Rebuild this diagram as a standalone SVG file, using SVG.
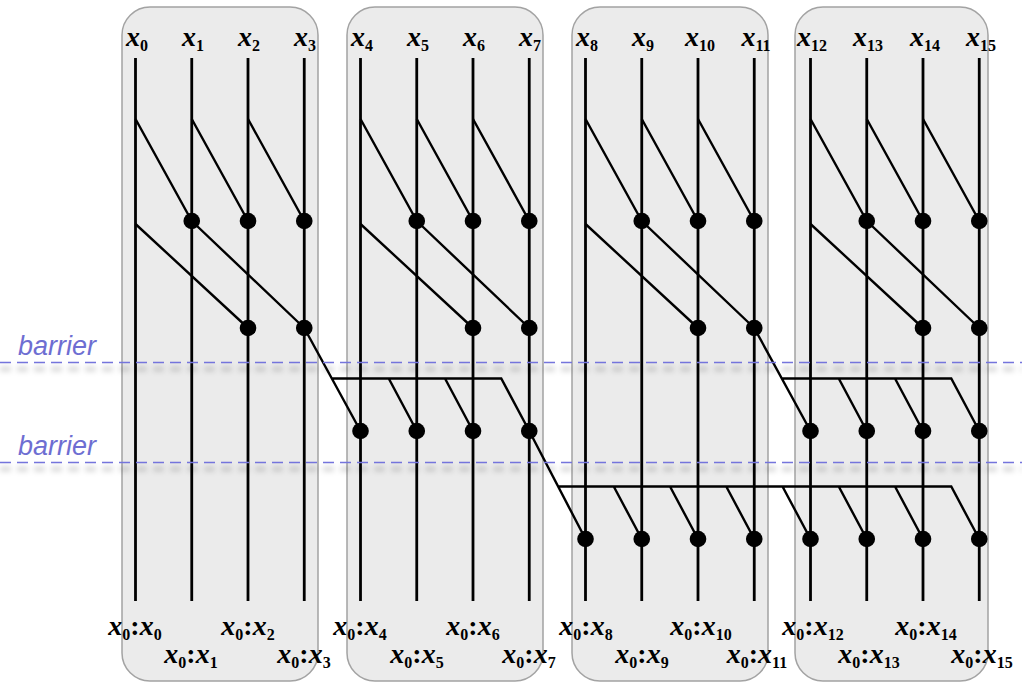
<svg xmlns="http://www.w3.org/2000/svg" width="1022" height="683" viewBox="0 0 1022 683">
<style>
.box{fill:#ebebeb;stroke:#a3a3a3;stroke-width:1.5}
.wire{stroke:#000;stroke-width:2.8;fill:none}
.ln{stroke:#000;stroke-width:2.4;fill:none;stroke-linejoin:miter}
.dot{fill:#000}
.lbl{font-family:"Liberation Serif","Times New Roman",serif;font-weight:bold;font-size:28px;fill:#000;text-anchor:middle}
.v{font-style:italic}
.s{font-size:16px;font-style:normal}
.bar{stroke:#7474dc;stroke-width:1.3;stroke-dasharray:11 6;fill:none}
.sh{stroke:#000;stroke-opacity:0.12;stroke-width:6;stroke-dasharray:11 6;fill:none}
.bt{font-family:"Liberation Sans",Arial,sans-serif;font-style:italic;font-size:27px;fill:#6e6ed2}
</style>
<defs>
<filter id="blur" x="-5%" y="-200%" width="110%" height="500%"><feGaussianBlur stdDeviation="2.5"/></filter>
</defs>
<g id="boxes">
<rect id="box0" class="box" x="122" y="7" width="196" height="674" rx="28"/>
<rect id="box1" class="box" x="347" y="7" width="196" height="674" rx="28"/>
<rect id="box2" class="box" x="572" y="7" width="196" height="674" rx="28"/>
<rect id="box3" class="box" x="795" y="7" width="193" height="674" rx="28"/>
</g>
<g id="shadows" filter="url(#blur)">
<line class="sh" x1="0" y1="369" x2="1022" y2="369"/>
<line class="sh" x1="0" y1="469" x2="1022" y2="469"/>
</g>
<g id="wires">
<line class="wire" x1="135.5" y1="58" x2="135.5" y2="601"/>
<line class="wire" x1="191.75" y1="58" x2="191.75" y2="601"/>
<line class="wire" x1="248" y1="58" x2="248" y2="601"/>
<line class="wire" x1="304.25" y1="58" x2="304.25" y2="601"/>
<line class="wire" x1="360.5" y1="58" x2="360.5" y2="601"/>
<line class="wire" x1="416.75" y1="58" x2="416.75" y2="601"/>
<line class="wire" x1="473" y1="58" x2="473" y2="601"/>
<line class="wire" x1="529.25" y1="58" x2="529.25" y2="601"/>
<line class="wire" x1="585.5" y1="58" x2="585.5" y2="601"/>
<line class="wire" x1="641.75" y1="58" x2="641.75" y2="601"/>
<line class="wire" x1="698" y1="58" x2="698" y2="601"/>
<line class="wire" x1="754.25" y1="58" x2="754.25" y2="601"/>
<line class="wire" x1="810.5" y1="58" x2="810.5" y2="601"/>
<line class="wire" x1="866.75" y1="58" x2="866.75" y2="601"/>
<line class="wire" x1="923" y1="58" x2="923" y2="601"/>
<line class="wire" x1="979.25" y1="58" x2="979.25" y2="601"/>
</g>
<g id="connectors">
<path class="ln" d="M135.5,119L191.75,221M191.75,119L248,221M248,119L304.25,221"/>
<path class="ln" d="M360.5,119L416.75,221M416.75,119L473,221M473,119L529.25,221"/>
<path class="ln" d="M585.5,119L641.75,221M641.75,119L698,221M698,119L754.25,221"/>
<path class="ln" d="M810.5,119L866.75,221M866.75,119L923,221M923,119L979.25,221"/>
<path class="ln" d="M135.5,224L248,328M191.75,221L304.25,328"/>
<path class="ln" d="M360.5,224L473,328M416.75,221L529.25,328"/>
<path class="ln" d="M585.5,224L698,328M641.75,221L754.25,328"/>
<path class="ln" d="M810.5,224L923,328M866.75,221L979.25,328"/>
<path class="ln" d="M304.25,328L360.5,431M331.6,378.5H501.25L529.25,431M388.75,378.5L416.75,431M445,378.5L473,431"/>
<path class="ln" d="M754.25,328L810.5,431M781.6,378.5H951.25L979.25,431M838.75,378.5L866.75,431M895,378.5L923,431"/>
<path class="ln" d="M529.25,431L585.5,539M557.5,486.5H951.25L979.25,539M613.75,486.5L641.75,539M670,486.5L698,539M726.25,486.5L754.25,539M782.5,486.5L810.5,539M838.75,486.5L866.75,539M895,486.5L923,539"/>
</g>
<g id="dots">
<circle class="dot" cx="191.75" cy="221" r="8.3"/><circle class="dot" cx="248" cy="221" r="8.3"/><circle class="dot" cx="304.25" cy="221" r="8.3"/>
<circle class="dot" cx="416.75" cy="221" r="8.3"/><circle class="dot" cx="473" cy="221" r="8.3"/><circle class="dot" cx="529.25" cy="221" r="8.3"/>
<circle class="dot" cx="641.75" cy="221" r="8.3"/><circle class="dot" cx="698" cy="221" r="8.3"/><circle class="dot" cx="754.25" cy="221" r="8.3"/>
<circle class="dot" cx="866.75" cy="221" r="8.3"/><circle class="dot" cx="923" cy="221" r="8.3"/><circle class="dot" cx="979.25" cy="221" r="8.3"/>
<circle class="dot" cx="248" cy="328" r="8.3"/><circle class="dot" cx="304.25" cy="328" r="8.3"/>
<circle class="dot" cx="473" cy="328" r="8.3"/><circle class="dot" cx="529.25" cy="328" r="8.3"/>
<circle class="dot" cx="698" cy="328" r="8.3"/><circle class="dot" cx="754.25" cy="328" r="8.3"/>
<circle class="dot" cx="923" cy="328" r="8.3"/><circle class="dot" cx="979.25" cy="328" r="8.3"/>
<circle class="dot" cx="360.5" cy="431" r="8.3"/><circle class="dot" cx="416.75" cy="431" r="8.3"/><circle class="dot" cx="473" cy="431" r="8.3"/><circle class="dot" cx="529.25" cy="431" r="8.3"/>
<circle class="dot" cx="810.5" cy="431" r="8.3"/><circle class="dot" cx="866.75" cy="431" r="8.3"/><circle class="dot" cx="923" cy="431" r="8.3"/><circle class="dot" cx="979.25" cy="431" r="8.3"/>
<circle class="dot" cx="585.5" cy="539" r="8.3"/><circle class="dot" cx="641.75" cy="539" r="8.3"/><circle class="dot" cx="698" cy="539" r="8.3"/><circle class="dot" cx="754.25" cy="539" r="8.3"/>
<circle class="dot" cx="810.5" cy="539" r="8.3"/><circle class="dot" cx="866.75" cy="539" r="8.3"/><circle class="dot" cx="923" cy="539" r="8.3"/><circle class="dot" cx="979.25" cy="539" r="8.3"/>
</g>
<g id="inputs" class="lbl">
<text x="137" y="46"><tspan class="v">x</tspan><tspan class="s" dy="5">0</tspan></text>
<text x="193" y="46"><tspan class="v">x</tspan><tspan class="s" dy="5">1</tspan></text>
<text x="249" y="46"><tspan class="v">x</tspan><tspan class="s" dy="5">2</tspan></text>
<text x="305" y="46"><tspan class="v">x</tspan><tspan class="s" dy="5">3</tspan></text>
<text x="362" y="46"><tspan class="v">x</tspan><tspan class="s" dy="5">4</tspan></text>
<text x="418" y="46"><tspan class="v">x</tspan><tspan class="s" dy="5">5</tspan></text>
<text x="474" y="46"><tspan class="v">x</tspan><tspan class="s" dy="5">6</tspan></text>
<text x="530" y="46"><tspan class="v">x</tspan><tspan class="s" dy="5">7</tspan></text>
<text x="587" y="46"><tspan class="v">x</tspan><tspan class="s" dy="5">8</tspan></text>
<text x="643" y="46"><tspan class="v">x</tspan><tspan class="s" dy="5">9</tspan></text>
<text x="700" y="46"><tspan class="v">x</tspan><tspan class="s" dy="5">10</tspan></text>
<text x="756" y="46"><tspan class="v">x</tspan><tspan class="s" dy="5">11</tspan></text>
<text x="812" y="46"><tspan class="v">x</tspan><tspan class="s" dy="5">12</tspan></text>
<text x="868" y="46"><tspan class="v">x</tspan><tspan class="s" dy="5">13</tspan></text>
<text x="925" y="46"><tspan class="v">x</tspan><tspan class="s" dy="5">14</tspan></text>
<text x="981" y="46"><tspan class="v">x</tspan><tspan class="s" dy="5">15</tspan></text>
</g>
<g id="outputs" class="lbl">
<text x="135" y="635"><tspan class="v">x</tspan><tspan class="s" dy="5">0</tspan><tspan dy="-5">:</tspan><tspan class="v">x</tspan><tspan class="s" dy="5">0</tspan></text>
<text x="191" y="663"><tspan class="v">x</tspan><tspan class="s" dy="5">0</tspan><tspan dy="-5">:</tspan><tspan class="v">x</tspan><tspan class="s" dy="5">1</tspan></text>
<text x="248" y="635"><tspan class="v">x</tspan><tspan class="s" dy="5">0</tspan><tspan dy="-5">:</tspan><tspan class="v">x</tspan><tspan class="s" dy="5">2</tspan></text>
<text x="304" y="663"><tspan class="v">x</tspan><tspan class="s" dy="5">0</tspan><tspan dy="-5">:</tspan><tspan class="v">x</tspan><tspan class="s" dy="5">3</tspan></text>
<text x="360" y="635"><tspan class="v">x</tspan><tspan class="s" dy="5">0</tspan><tspan dy="-5">:</tspan><tspan class="v">x</tspan><tspan class="s" dy="5">4</tspan></text>
<text x="417" y="663"><tspan class="v">x</tspan><tspan class="s" dy="5">0</tspan><tspan dy="-5">:</tspan><tspan class="v">x</tspan><tspan class="s" dy="5">5</tspan></text>
<text x="473" y="635"><tspan class="v">x</tspan><tspan class="s" dy="5">0</tspan><tspan dy="-5">:</tspan><tspan class="v">x</tspan><tspan class="s" dy="5">6</tspan></text>
<text x="529" y="663"><tspan class="v">x</tspan><tspan class="s" dy="5">0</tspan><tspan dy="-5">:</tspan><tspan class="v">x</tspan><tspan class="s" dy="5">7</tspan></text>
<text x="586" y="635"><tspan class="v">x</tspan><tspan class="s" dy="5">0</tspan><tspan dy="-5">:</tspan><tspan class="v">x</tspan><tspan class="s" dy="5">8</tspan></text>
<text x="642" y="663"><tspan class="v">x</tspan><tspan class="s" dy="5">0</tspan><tspan dy="-5">:</tspan><tspan class="v">x</tspan><tspan class="s" dy="5">9</tspan></text>
<text x="701" y="635"><tspan class="v">x</tspan><tspan class="s" dy="5">0</tspan><tspan dy="-5">:</tspan><tspan class="v">x</tspan><tspan class="s" dy="5">10</tspan></text>
<text x="757" y="663"><tspan class="v">x</tspan><tspan class="s" dy="5">0</tspan><tspan dy="-5">:</tspan><tspan class="v">x</tspan><tspan class="s" dy="5">11</tspan></text>
<text x="813" y="635"><tspan class="v">x</tspan><tspan class="s" dy="5">0</tspan><tspan dy="-5">:</tspan><tspan class="v">x</tspan><tspan class="s" dy="5">12</tspan></text>
<text x="869" y="663"><tspan class="v">x</tspan><tspan class="s" dy="5">0</tspan><tspan dy="-5">:</tspan><tspan class="v">x</tspan><tspan class="s" dy="5">13</tspan></text>
<text x="926" y="635"><tspan class="v">x</tspan><tspan class="s" dy="5">0</tspan><tspan dy="-5">:</tspan><tspan class="v">x</tspan><tspan class="s" dy="5">14</tspan></text>
<text x="982" y="663"><tspan class="v">x</tspan><tspan class="s" dy="5">0</tspan><tspan dy="-5">:</tspan><tspan class="v">x</tspan><tspan class="s" dy="5">15</tspan></text>
</g>
<g id="barriers">
<line class="bar" x1="0" y1="362.5" x2="1022" y2="362.5"/>
<line class="bar" x1="0" y1="462.5" x2="1022" y2="462.5"/>
<text class="bt" x="18" y="355">barrier</text>
<text class="bt" x="18" y="455">barrier</text>
</g>
</svg>
